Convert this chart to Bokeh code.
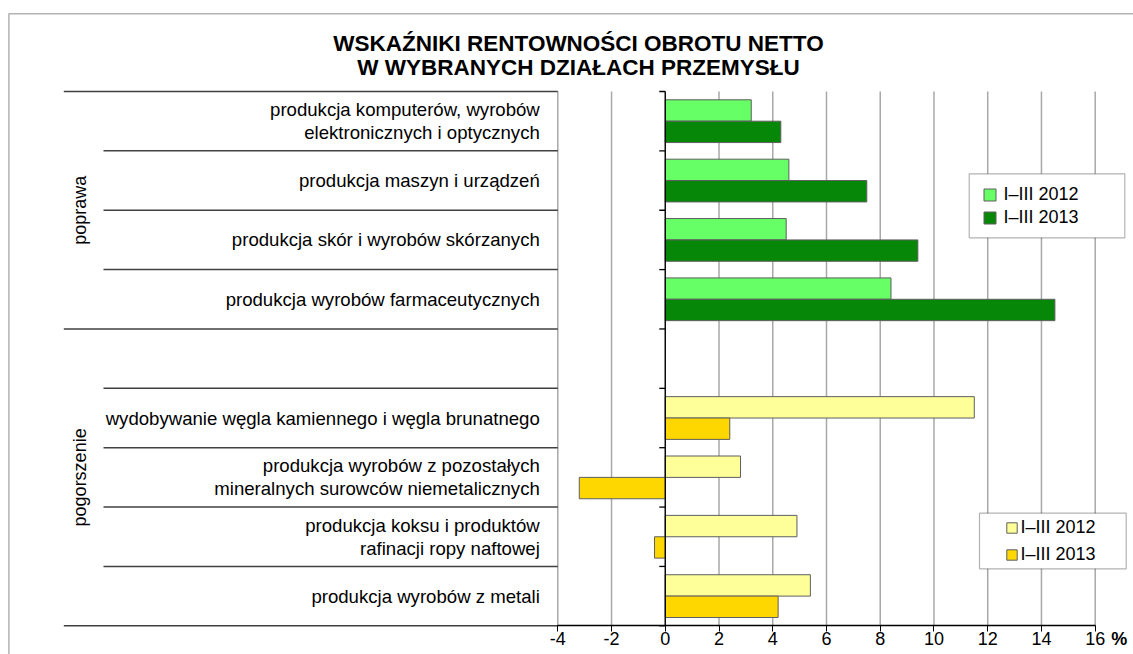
from math import pi

from bokeh.embed import file_html
from bokeh.models import (BoxAnnotation, ColumnDataSource, FixedTicker, Label, Legend,
                          LegendItem, Range1d)
from bokeh.plotting import figure
from bokeh.resources import INLINE
from bokeh.transform import dodge

# ---------------- data ----------------
title_lines = ["WSKAŹNIKI RENTOWNOŚCI OBROTU NETTO", "W WYBRANYCH DZIAŁACH PRZEMYSŁU"]
group_names = ["poprawa", "pogorszenie"]
series_names = ["I–III 2012", "I–III 2013"]

improved = [
    "produkcja komputerów, wyrobów\nelektronicznych i optycznych",
    "produkcja maszyn i urządzeń",
    "produkcja skór i wyrobów skórzanych",
    "produkcja wyrobów farmaceutycznych",
]
improved_2012 = [3.2, 4.6, 4.5, 8.4]
improved_2013 = [4.3, 7.5, 9.4, 14.5]

spacer = " "

worse = [
    "wydobywanie węgla kamiennego i węgla brunatnego",
    "produkcja wyrobów z pozostałych\nmineralnych surowców niemetalicznych",
    "produkcja koksu i produktów\nrafinacji ropy naftowej",
    "produkcja wyrobów z metali",
]
worse_2012 = [11.5, 2.8, 4.9, 5.4]
worse_2013 = [2.4, -3.2, -0.4, 4.2]

x_ticks = [-4, -2, 0, 2, 4, 6, 8, 10, 12, 14, 16]
unit_label = "%"

# ---------------- layout / styles ----------------
FONT = "Liberation Sans"
W, H = 1133, 654
PLOT_L, PLOT_R, PLOT_T, PLOT_B = 557.3, 1094.7, 91.0, 625.3   # value-area box (px)
GREEN_LIGHT, GREEN_DARK = "#66ff66", "#078707"
YELLOW_LIGHT, YELLOW_DARK = "#ffff99", "#ffd700"
BAR_LINE = "#5f5f5f"
SEP = "#404040"
GRID = "#a8a8a8"
TICK_OUT, TICK_STANDOFF = 6, 0

slots = list(reversed(improved + [spacer] + worse))      # bottom -> top
n_slots = len(slots)
group_split = len(worse) + 1
pos = {c: i + 0.5 for i, c in enumerate(slots)}

px_x = (PLOT_R - PLOT_L) / (x_ticks[-1] - x_ticks[0])
px_y = (PLOT_B - PLOT_T) / n_slots
x_range = Range1d(x_ticks[0] - PLOT_L / px_x, x_ticks[-1] + (W - PLOT_R) / px_x)
y_range = Range1d(-(H - PLOT_B) / px_y, n_slots + PLOT_T / px_y)


def sy(page_y):
    return H - page_y


p = figure(width=W, height=H, output_backend="svg", toolbar_location=None,
           x_range=x_range, y_range=y_range)
p.min_border = 0
p.min_border_left = p.min_border_right = p.min_border_top = p.min_border_bottom = 0
p.title.visible = False
p.outline_line_color = None
p.background_fill_color = "white"
p.border_fill_color = "white"
p.xgrid.visible = False
p.ygrid.visible = False

# x axis, fixed at the bottom edge of the category block
p.xaxis.fixed_location = 0
p.xaxis.bounds = (x_ticks[0], x_ticks[-1])
p.xaxis.ticker = FixedTicker(ticks=x_ticks)
p.xaxis.major_label_overrides = {t: str(t) for t in x_ticks}
p.xaxis.axis_line_color = "black"
p.xaxis.axis_line_width = 1.3
p.xaxis.major_tick_line_color = "black"
p.xaxis.major_tick_in = 0
p.xaxis.major_tick_out = TICK_OUT
p.xaxis.minor_tick_line_color = None
p.xaxis.major_label_standoff = TICK_STANDOFF
p.xaxis.major_label_text_font = FONT
p.xaxis.major_label_text_font_size = "18px"
p.xaxis.major_label_text_color = "black"

# y axis with the category names, fixed at the left end of the value scale
cat_ticks = [pos[c] for c in improved + worse]
p.yaxis.fixed_location = x_ticks[0]
p.yaxis.ticker = FixedTicker(ticks=cat_ticks, minor_ticks=[])
p.yaxis.major_label_overrides = {pos[c]: c for c in improved + worse}
p.yaxis.axis_line_color = None
p.yaxis.major_tick_line_color = None
p.yaxis.minor_tick_line_color = None
p.yaxis.major_tick_out = 0
p.yaxis.major_label_standoff = 18
p.yaxis.major_label_text_font = FONT
p.yaxis.major_label_text_font_size = "18.6px"
p.yaxis.major_label_text_color = "black"
p.yaxis.major_label_text_line_height = 1.1

# vertical grid lines over the category block
p.segment(x0=x_ticks, x1=x_ticks, y0=[0] * len(x_ticks), y1=[n_slots] * len(x_ticks),
          line_color=GRID, line_width=1.5)

# separators between categories (left of the value area)
bounds = list(range(n_slots + 1))
outer = [b for b in bounds if b in (0, group_split, n_slots)]
inner = [b for b in bounds if b not in outer]
p.ray(x=[x_ticks[0]] * len(outer), y=outer, length=PLOT_L - 63.3, length_units="screen",
      angle=pi, line_color=SEP, line_width=1.5)
p.ray(x=[x_ticks[0]] * len(inner), y=inner, length=PLOT_L - 103.0, length_units="screen",
      angle=pi, line_color=SEP, line_width=1.5)

# bars
BH = 0.36
src_imp = ColumnDataSource(dict(y=[pos[c] for c in improved], v12=improved_2012, v13=improved_2013))
src_wor = ColumnDataSource(dict(y=[pos[c] for c in worse], v12=worse_2012, v13=worse_2013))
r_i12 = p.hbar(y=dodge("y", BH / 2), left=0, right="v12", height=BH, source=src_imp,
               fill_color=GREEN_LIGHT, line_color=BAR_LINE, line_width=1)
r_i13 = p.hbar(y=dodge("y", -BH / 2), left=0, right="v13", height=BH, source=src_imp,
               fill_color=GREEN_DARK, line_color=BAR_LINE, line_width=1)
r_w12 = p.hbar(y=dodge("y", BH / 2), left=0, right="v12", height=BH, source=src_wor,
               fill_color=YELLOW_LIGHT, line_color=BAR_LINE, line_width=1)
r_w13 = p.hbar(y=dodge("y", -BH / 2), left=0, right="v13", height=BH, source=src_wor,
               fill_color=YELLOW_DARK, line_color=BAR_LINE, line_width=1)

# zero line and its ticks
p.segment(x0=[0], x1=[0], y0=[0], y1=[n_slots], line_color="black", line_width=1.3)
p.ray(x=[0] * len(bounds), y=bounds, length=6, length_units="screen", angle=pi,
      line_color="black", line_width=1.3)

# group labels
p.add_layout(Label(x=79, x_units="screen", y=(group_split + n_slots) / 2, text=group_names[0],
                   angle=pi / 2, text_align="center", text_baseline="middle",
                   text_font=FONT, text_font_size="18px", text_color="black"))
p.add_layout(Label(x=79, x_units="screen", y=group_split / 2, text=group_names[1],
                   angle=pi / 2, text_align="center", text_baseline="middle",
                   text_font=FONT, text_font_size="18px", text_color="black"))

# title
for t, yy in zip(title_lines, [43, 67]):
    p.add_layout(Label(x=578, y=sy(yy), x_units="screen", y_units="screen", text=t,
                       text_align="center", text_baseline="middle", text_font=FONT,
                       text_font_style="bold", text_font_size="22.5px", text_color="black"))

# unit label next to the last tick
p.add_layout(Label(x=x_ticks[-1], y=0, x_offset=16, y_offset=-(TICK_OUT + TICK_STANDOFF) + 3,
                   text=unit_label, text_align="left", text_baseline="top", text_font=FONT,
                   text_font_style="bold", text_font_size="18px", text_color="black"))

# outer chart frame
p.add_layout(BoxAnnotation(left=8.4, right=W + 50, top=sy(13.3), bottom=-50,
                           left_units="screen", right_units="screen",
                           top_units="screen", bottom_units="screen",
                           fill_alpha=0, line_color="black", line_width=1.5))

# legend boxes
p.add_layout(BoxAnnotation(left=968.7, right=1124.3, top=sy(173.3), bottom=sy(237.3),
                           left_units="screen", right_units="screen",
                           top_units="screen", bottom_units="screen",
                           fill_color="white", fill_alpha=1, line_color="black", line_width=1.2))
p.add_layout(BoxAnnotation(left=979.0, right=1125.7, top=sy(512.7), bottom=sy(568.3),
                           left_units="screen", right_units="screen",
                           top_units="screen", bottom_units="screen",
                           fill_color="white", fill_alpha=1, line_color="black", line_width=1.2))

leg1 = Legend(items=[LegendItem(label=series_names[0], renderers=[r_i12]),
                     LegendItem(label=series_names[1], renderers=[r_i13])],
              location=(981.5, sy(227.8)), border_line_color=None, background_fill_alpha=0,
              padding=0, margin=0, spacing=2, glyph_width=15, glyph_height=15,
              label_standoff=7, label_height=15, label_text_font=FONT,
              label_text_font_size="18px", label_text_color="black")
leg2 = Legend(items=[LegendItem(label=series_names[0], renderers=[r_w12]),
                     LegendItem(label=series_names[1], renderers=[r_w13])],
              location=(1005.4, sy(564.5)), border_line_color=None, background_fill_alpha=0,
              padding=0, margin=0, spacing=6, glyph_width=13, glyph_height=13,
              label_standoff=2, label_height=13, label_text_font=FONT,
              label_text_font_size="18px", label_text_color="black")
p.add_layout(leg1)
p.add_layout(leg2)

open("out.html", "w").write(file_html(p, INLINE))
